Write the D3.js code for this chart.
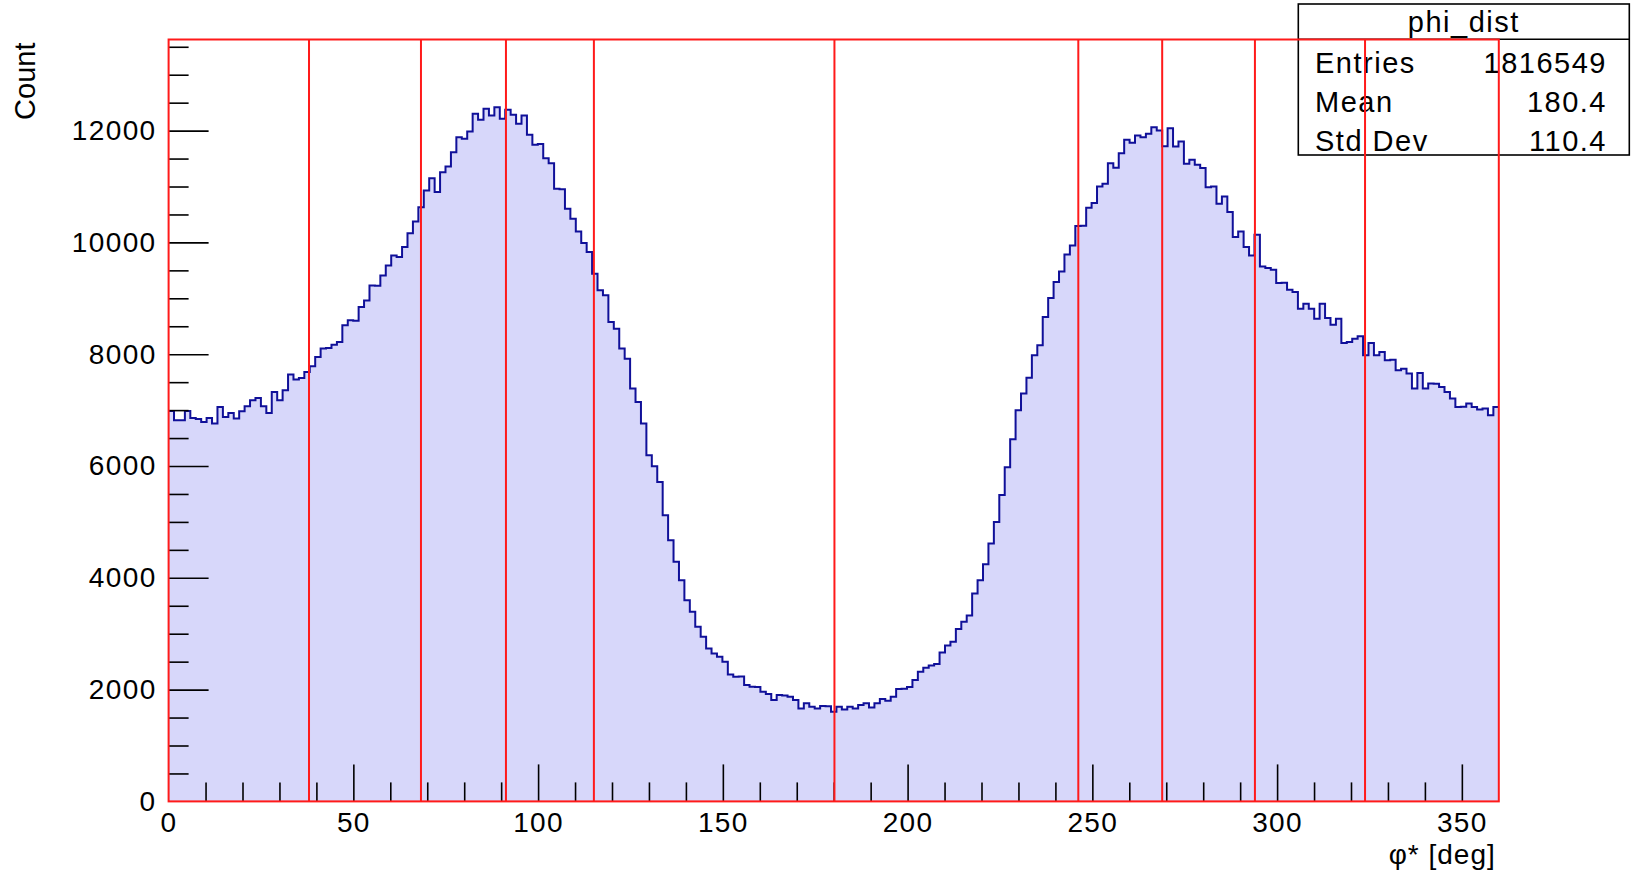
<!DOCTYPE html>
<html lang="en">
<head>
<meta charset="UTF-8">
<title>phi_dist</title>
<script src="https://d3js.org/d3.v7.min.js"></script>
<style>
  html, body { margin: 0; padding: 0; background: #fff; }
  svg { display: block; background: #fff; }
  text { font-family: 'Liberation Sans', Arial, Helvetica, sans-serif; fill: #000; }
</style>
</head>
<body>
<svg id="canvas"></svg>
<script>
// bin contents of phi_dist, equal bins from 0 to 360 deg
let counts = [
  6984, 6818, 6818, 6984, 6860, 6842, 6788, 6860, 6759, 7056,
  6877, 6949, 6848, 6979, 7068, 7176, 7217, 7068, 6949, 7324,
  7176, 7354, 7635, 7546, 7575, 7682, 7783, 7950,
  8100, 8110, 8171, 8218, 8516, 8606, 8600, 8844, 8963, 9231,
  9225, 9410, 9589, 9768, 9738, 9916, 10166, 10376, 10631, 10930,
  11150, 10900, 11257, 11358, 11614, 11882, 11853, 11984, 12301, 12194,
  12390, 12271, 12419, 12212, 12373,
  12283, 12122, 12271, 11925, 11747, 11760, 11507, 11418, 10960, 10950,
  10603, 10424, 10197, 9988, 9827, 9440, 9142, 9053, 8575, 8457,
  8100, 7921, 7385, 7146, 6759, 6192, 5996, 5715, 5120, 4673, 4285,
  3958, 3600, 3391, 3123, 2944, 2736, 2647, 2587, 2497, 2272,
  2229, 2235, 2081, 2050, 2045, 1961, 1920, 1813, 1902, 1895,
  1872, 1813, 1664, 1754, 1693, 1664, 1705, 1700, 1603, 1693,
  1646, 1693, 1664,
  1723, 1754, 1682, 1754, 1831, 1800, 1872, 2009, 2015, 2045,
  2170, 2319, 2390, 2433, 2456, 2665, 2790, 2855, 3082, 3212,
  3327, 3720, 3958, 4244, 4614,
  5000, 5480, 5980, 6480,
  6997, 7295, 7581, 7980, 8159, 8664, 9004, 9290, 9481, 9785,
  9946, 10292, 10300, 10620, 10703, 11001, 11049, 11418, 11335, 11596,
  11835, 11782, 11913, 11883, 11943, 12062, 12002, 11722, 12043,
  11716, 11805, 11407, 11478, 11389, 11329, 10989, 11001, 10692, 10822,
  10542, 10095, 10197, 9916, 9768, 10138, 9571, 9541, 9512, 9272,
  9280, 9154, 9112, 8815, 8904, 8815, 8636, 8904, 8647,
  8529, 8636, 8200, 8218, 8278, 8320, 7980, 8200, 7980, 8039,
  7891, 7900, 7712, 7742, 7653, 7385, 7664, 7385, 7474, 7470,
  7413, 7324, 7206, 7056, 7060, 7117, 7056, 7010, 7027, 6908, 7056
]

let xLow = 0
let xHigh = 360
let yTop = 13630

// red vertical cut lines (deg)
let cutLines = [38.0, 68.3, 91.3, 115.1, 180.2, 246.2, 268.9, 294.0, 323.8]

let xMajor = [0, 50, 100, 150, 200, 250, 300, 350]
let xMinor = [10, 20, 30, 40, 60, 70, 80, 90, 110, 120, 130, 140, 160, 170, 180, 190,
              210, 220, 230, 240, 260, 270, 280, 290, 310, 320, 330, 340]
let yMajor = [0, 2000, 4000, 6000, 8000, 10000, 12000]
let yMinor = [500, 1000, 1500, 2500, 3000, 3500, 4500, 5000, 5500, 6500, 7000, 7500,
              8500, 9000, 9500, 10500, 11000, 11500, 12500, 13000, 13500]

let statTitle = 'phi_dist'
let statNames = ['Entries', 'Mean', 'Std Dev']
let statValues = ['1816549', '180.4', '110.4']

let width = 1632
let height = 870
let frame = { left: 168.6, right: 1498.8, top: 39.5, bottom: 801.4 }

let svg = d3.select('#canvas')
    .attr('width', width)
    .attr('height', height)

let xScale = d3.scaleLinear()
    .domain([xLow, xHigh])
    .range([frame.left, frame.right])

let yScale = d3.scaleLinear()
    .domain([0, yTop])
    .range([frame.bottom, frame.top])

let binWidth = (xHigh - xLow) / counts.length
let steps = counts.map((c, i) => [xLow + i * binWidth, c])
steps.push([xHigh, counts[counts.length - 1]])

// filled histogram
let area = d3.area()
    .curve(d3.curveStepAfter)
    .x(d => xScale(d[0]))
    .y0(yScale(0))
    .y1(d => yScale(d[1]))

svg.append('path')
    .datum(steps)
    .attr('d', area)
    .attr('fill', '#d7d7fa')

let line = d3.line()
    .curve(d3.curveStepAfter)
    .x(d => xScale(d[0]))
    .y(d => yScale(d[1]))

svg.append('path')
    .datum(steps)
    .attr('d', line)
    .attr('fill', 'none')
    .attr('stroke', '#101099')
    .attr('stroke-width', 2)

// axes, ticks pointing into the frame; the tick sitting on the frame edge is dropped
let styleAxis = (g) => {
    g.select('.domain').remove()
    g.selectAll('.tick line').attr('stroke', '#000').attr('stroke-width', 1.6)
    g.selectAll('.tick').filter(d => d === 0).select('line').remove()
    g.selectAll('.tick text').attr('font-size', 28).attr('fill', '#000')
        .attr('letter-spacing', 1.4)
        .attr('font-family', "'Liberation Sans', Arial, Helvetica, sans-serif")
}

svg.append('g')
    .attr('transform', 'translate(0,' + frame.bottom + ')')
    .call(d3.axisBottom(xScale).tickValues(xMinor).tickSize(-19).tickFormat(''))
    .call(styleAxis)

svg.append('g')
    .attr('transform', 'translate(0,' + frame.bottom + ')')
    .call(d3.axisBottom(xScale).tickValues(xMajor).tickSize(-37).tickPadding(11)
        .tickFormat(d3.format('d')))
    .call(styleAxis)

svg.append('g')
    .attr('transform', 'translate(' + frame.left + ',0)')
    .call(d3.axisLeft(yScale).tickValues(yMinor).tickSize(-20).tickFormat(''))
    .call(styleAxis)

svg.append('g')
    .attr('transform', 'translate(' + frame.left + ',0)')
    .call(d3.axisLeft(yScale).tickValues(yMajor).tickSize(-40).tickPadding(12)
        .tickFormat(d3.format('d')))
    .call(styleAxis)

// axis titles
svg.append('text')
    .attr('transform', 'translate(35,' + (frame.top + 3) + ') rotate(-90)')
    .attr('text-anchor', 'end')
    .attr('font-size', 29)
    .text('Count')

svg.append('text')
    .attr('x', frame.right - 3)
    .attr('y', 864)
    .attr('text-anchor', 'end')
    .attr('font-size', 28)
    .attr('letter-spacing', 1)
    .text('\u03c6* [deg]')

// stats box
let box = { x: 1298.3, y: 4, w: 331, h: 151, titleLine: 39.3 }
let stats = svg.append('g')
    .attr('font-size', 29)
    .attr('letter-spacing', 1.5)

stats.append('rect')
    .attr('x', box.x)
    .attr('y', box.y)
    .attr('width', box.w)
    .attr('height', box.h)
    .attr('fill', '#fff')
    .attr('stroke', '#000')
    .attr('stroke-width', 1.6)

stats.append('line')
    .attr('x1', box.x)
    .attr('x2', box.x + box.w)
    .attr('y1', box.titleLine)
    .attr('y2', box.titleLine)
    .attr('stroke', '#000')
    .attr('stroke-width', 1.6)

stats.append('text')
    .attr('x', box.x + box.w / 2)
    .attr('y', 32)
    .attr('text-anchor', 'middle')
    .text(statTitle)

let rowY = [73, 112, 151]
statNames.forEach((name, i) => {
    stats.append('text')
        .attr('x', 1315)
        .attr('y', rowY[i])
        .text(name)
    stats.append('text')
        .attr('x', 1607)
        .attr('y', rowY[i])
        .attr('text-anchor', 'end')
        .text(statValues[i])
})

// red frame and cut lines on top
svg.append('rect')
    .attr('x', frame.left)
    .attr('y', frame.top)
    .attr('width', frame.right - frame.left)
    .attr('height', frame.bottom - frame.top)
    .attr('fill', 'none')
    .attr('stroke', '#ff1a1a')
    .attr('stroke-width', 2)

svg.selectAll('.cut')
    .data(cutLines)
    .enter()
    .append('line')
    .attr('class', 'cut')
    .attr('x1', d => xScale(d))
    .attr('x2', d => xScale(d))
    .attr('y1', yScale(0))
    .attr('y2', yScale(yTop))
    .attr('stroke', '#ff1a1a')
    .attr('stroke-width', 2)
</script>
</body>
</html>
